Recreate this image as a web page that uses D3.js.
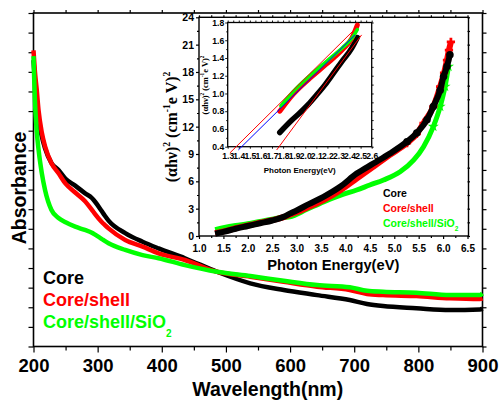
<!DOCTYPE html>
<html lang='en'>
<head>
<meta charset="utf-8">
<style>
  body { margin: 0; background: #fff; }
  text { font-family: "Liberation Sans", Arial, sans-serif; font-weight: bold; fill: #000; }
  .serif { font-family: "Liberation Serif", "Times New Roman", serif; }
  .frame { fill: none; stroke: #000; stroke-width: 1.6; }
  .tk line { stroke: #000; stroke-width: 1.2; }
  .tk path { display: none; }
</style>
<script src="https://d3js.org/d3.v7.min.js"></script>
</head>
<body>
<div id="chart"></div>
<script>
// ---- main plot: absorbance vs wavelength ----
var wavelength = [200, 202, 205, 208, 213, 218, 228, 239, 250, 265, 280, 291, 296, 306, 311, 317, 343, 370, 395, 436, 486, 538, 590, 642, 693, 720, 745, 797, 849, 896, 900];
var absCore    = [1.46, 1.36, 1.26, 1.16, 1.07, 1.01, 0.935, 0.90, 0.855, 0.82, 0.782, 0.757, 0.738, 0.692, 0.668, 0.642, 0.578, 0.534, 0.50, 0.45, 0.381, 0.322, 0.288, 0.262, 0.237, 0.217, 0.206, 0.195, 0.186, 0.189, 0.194];
var absShell   = [1.51, 1.41, 1.31, 1.20, 1.09, 1.02, 0.934, 0.883, 0.83, 0.785, 0.742, 0.697, 0.675, 0.636, 0.620, 0.602, 0.543, 0.509, 0.475, 0.441, 0.381, 0.356, 0.330, 0.305, 0.288, 0.268, 0.262, 0.257, 0.246, 0.242, 0.245];
var absSiO2    = [1.48, 1.27, 1.10, 1.00, 0.883, 0.798, 0.696, 0.655, 0.633, 0.611, 0.594, 0.580, 0.570, 0.549, 0.538, 0.526, 0.492, 0.466, 0.45, 0.415, 0.381, 0.359, 0.335, 0.313, 0.302, 0.284, 0.279, 0.274, 0.262, 0.262, 0.270];
var xTicks = [200, 300, 400, 500, 600, 700, 800, 900];

// ---- inset: (ahv)^2 vs photon energy ----
var eCore   = [1.33, 1.5, 1.75, 2.0, 2.25, 2.5, 2.75, 2.86, 3.0, 3.25, 3.55, 3.89, 4.23, 4.57, 4.91, 5.26, 5.46, 5.67, 5.80, 5.94, 6.01, 6.08, 6.14];
var vCore   = [0.25, 0.45, 0.8, 1.1, 1.4, 1.7, 2.15, 2.45, 2.8, 3.5, 4.3, 5.4, 6.85, 7.95, 9.05, 10.35, 11.3, 12.75, 14.2, 16.0, 17.5, 18.6, 19.9];
var eShell  = [1.33, 1.5, 1.75, 2.0, 2.25, 2.5, 2.75, 2.86, 3.0, 3.25, 3.55, 3.89, 4.23, 4.57, 4.91, 5.26, 5.46, 5.60, 5.80, 5.94, 6.02, 6.08, 6.12, 6.16];
var vShell  = [0.3, 0.5, 0.85, 1.15, 1.45, 1.75, 2.1, 2.35, 2.6, 3.2, 3.95, 5.0, 6.3, 7.6, 8.9, 10.2, 11.2, 12.4, 14.2, 16.4, 17.9, 19.3, 20.4, 21.3];
var eSiO2   = [1.33, 1.5, 1.75, 2.0, 2.25, 2.5, 2.75, 2.86, 3.2, 3.55, 3.89, 4.23, 4.5, 4.78, 5.12, 5.40, 5.60, 5.80, 5.94, 6.04, 6.11];
var vSiO2   = [0.7, 0.9, 1.15, 1.35, 1.6, 1.85, 2.05, 2.1, 2.9, 3.75, 4.45, 5.05, 5.6, 6.15, 7.05, 8.35, 9.8, 12.0, 14.2, 16.4, 18.6];

// ---- inner inset: zoom on band edge with fitted lines ----
var zCoreE  = [1.77, 1.88, 1.95, 2.03, 2.10, 2.18, 2.25, 2.33, 2.42, 2.47];
var zCoreV  = [0.56, 0.70, 0.78, 0.88, 0.98, 1.10, 1.22, 1.36, 1.51, 1.63];
var zShellE = [1.77, 1.89, 2.04, 2.19, 2.34, 2.42, 2.47];
var zShellV = [0.80, 0.99, 1.17, 1.33, 1.50, 1.62, 1.77];
var zSiO2E  = [1.78, 1.89, 2.04, 2.19, 2.34, 2.42, 2.47];
var zSiO2V  = [0.86, 1.02, 1.20, 1.36, 1.52, 1.62, 1.72];
var fitShell = [[1.32, 0.33], [2.46, 1.74]];
var fitSiO2  = [[1.396, 0.363], [2.449, 1.66]];
var fitCore  = [[1.742, 0.363], [2.509, 1.66]];

var colors = {core: "#000000", shell: "#ff0000", sio2: "#00ff00"};

function zip(xs, ys) { return xs.map(function(d, i) { return [d, ys[i]]; }); }
function range(a, b, s) { var r = []; for (var v = a; v <= b + 1e-9; v += s) r.push(+v.toFixed(3)); return r; }

var svg = d3.select("#chart").append("svg")
    .attr("width", 499).attr("height", 400);

// ================= main plot =================
var margin = {top: 13, right: 16.5, bottom: 53.5, left: 33.5},
    width = 499 - margin.left - margin.right,
    height = 400 - margin.top - margin.bottom;

var g = svg.append("g")
    .attr("transform", "translate(" + margin.left + "," + margin.top + ")");

var x = d3.scaleLinear().domain([200, 900]).range([0, width]);
var y = d3.scaleLinear().domain([0, 1.7]).range([height, 0]);

// bottom axis, labelled
g.append("g").attr("class", "tk")
  .attr("transform", "translate(0," + height + ")")
  .call(d3.axisBottom(x).tickValues(xTicks).tickSize(6).tickPadding(6.5).tickFormat(d3.format("d")))
  .selectAll("text").style("font-size", "18.5px").attr("fill", "#000");
g.append("g").attr("class", "tk")
  .attr("transform", "translate(0," + height + ")")
  .call(d3.axisBottom(x).tickValues(range(250, 850, 100)).tickSize(4).tickFormat(""));
// top axis
g.append("g").attr("class", "tk")
  .call(d3.axisTop(x).tickValues(range(200, 900, 50)).tickSize(3).tickFormat(""));
// left / right, no labels
g.append("g").attr("class", "tk")
  .call(d3.axisLeft(y).tickValues(range(0, 1.7, 0.1)).tickSize(5).tickFormat(""));
g.append("g").attr("class", "tk")
  .attr("transform", "translate(" + width + ",0)")
  .call(d3.axisRight(y).tickValues(range(0, 1.7, 0.1)).tickSize(4).tickFormat(""));

g.append("rect").attr("class", "frame").attr("width", width).attr("height", height);

var mainSeries = [
  {name: "core", values: zip(wavelength, absCore)},
  {name: "shell", values: zip(wavelength, absShell)},
  {name: "sio2", values: zip(wavelength, absSiO2)}
];

var line = d3.line()
  .x(function(d) { return x(d[0]); })
  .y(function(d) { return y(d[1]); })
  .curve(d3.curveMonotoneX);

g.selectAll("mainLines")
  .data(mainSeries)
  .enter()
  .append("path")
    .attr("d", function(d) { return line(d.values); })
    .attr("stroke", function(d) { return colors[d.name]; })
    .style("stroke-width", 4.5)
    .style("stroke-linejoin", "round")
    .style("fill", "none");

// axis titles
svg.append("text")
  .attr("x", 267.7).attr("y", 396)
  .attr("text-anchor", "middle")
  .style("font-size", "19.5px")
  .text("Wavelength(nm)");
svg.append("text")
  .attr("transform", "translate(26,188) rotate(-90)")
  .attr("text-anchor", "middle")
  .style("font-size", "19.5px")
  .text("Absorbance");

// main legend
var legMain = [
  {name: "core", label: "Core", y: 283.5},
  {name: "shell", label: "Core/shell", y: 306},
  {name: "sio2", label: "Core/shell/SiO", y: 327.7, sub: "2"}
];
legMain.forEach(function(d) {
  var t = svg.append("text").attr("x", 43).attr("y", d.y)
    .style("font-size", "18px").style("fill", colors[d.name]).text(d.label);
  if (d.sub) t.append("tspan").attr("dy", 9).style("font-size", "10px").text(d.sub);
});

// ================= inset =================
var inset = {left: 199, top: 17.3, width: 268.5, height: 218.7};
var gi = svg.append("g")
  .attr("transform", "translate(" + inset.left + "," + inset.top + ")");

var xi = d3.scaleLinear().domain([1.0, 6.5]).range([0, inset.width]);
var yi = d3.scaleLinear().domain([0, 24]).range([inset.height, 0]);

gi.append("g").attr("class", "tk")
  .attr("transform", "translate(0," + inset.height + ")")
  .call(d3.axisBottom(xi).tickValues(range(1.0, 6.5, 0.5)).tickSize(3).tickPadding(6).tickFormat(d3.format(".1f")))
  .selectAll("text").style("font-size", "10px").attr("fill", "#000");
gi.append("g").attr("class", "tk")
  .attr("transform", "translate(0," + inset.height + ")")
  .call(d3.axisBottom(xi).tickValues(range(1.25, 6.25, 0.5)).tickSize(2).tickFormat(""));
gi.append("g").attr("class", "tk")
  .call(d3.axisLeft(yi).tickValues(range(0, 24, 3)).tickSize(3).tickPadding(2).tickFormat(d3.format("d")))
  .selectAll("text").style("font-size", "10.5px").attr("fill", "#000");
gi.append("g").attr("class", "tk")
  .call(d3.axisLeft(yi).tickValues(range(1.5, 22.5, 3)).tickSize(2).tickFormat(""));
gi.append("g").attr("class", "tk")
  .call(d3.axisTop(xi).tickValues(range(1.0, 6.5, 0.25)).tickSize(2).tickFormat(""));
gi.append("g").attr("class", "tk")
  .attr("transform", "translate(" + inset.width + ",0)")
  .call(d3.axisRight(yi).tickValues(range(0, 24, 1.5)).tickSize(2.5).tickFormat(""));

gi.append("rect").attr("class", "frame").attr("width", inset.width + 1).attr("height", inset.height)
  .style("stroke-width", 1.4);

var insetSeries = [
  {name: "sio2", symbol: d3.symbolStar, values: zip(eSiO2, vSiO2)},
  {name: "shell", symbol: d3.symbolCross, values: zip(eShell, vShell)},
  {name: "core", symbol: d3.symbolCircle, values: zip(eCore, vCore)}
];

var lineI = d3.line()
  .x(function(d) { return xi(d[0]); })
  .y(function(d) { return yi(d[1]); })
  .curve(d3.curveMonotoneX);

insetSeries.forEach(function(s) {
  gi.append("path")
    .attr("d", lineI(s.values))
    .attr("stroke", colors[s.name])
    .style("stroke-width", s.name == "sio2" ? 5 : 6)
    .style("stroke-linejoin", "round")
    .style("fill", "none");
  // separate markers only show on the steep upper part
  gi.selectAll(null)
    .data(s.values.filter(function(d) { return d[1] >= 10; }))
    .enter()
    .append("path")
      .attr("transform", function(d) { return "translate(" + xi(d[0]) + "," + yi(d[1]) + ")"; })
      .attr("d", d3.symbol().type(s.symbol).size(s.name == "core" ? 45 : 38))
      .style("fill", colors[s.name]);
});

svg.append("text")
  .attr("x", inset.left + inset.width / 2).attr("y", 270)
  .attr("text-anchor", "middle")
  .style("font-size", "14.7px")
  .text("Photon Energy(eV)");

function supLabel(parent, tx, ty, size) {
  var t = parent.append("text").attr("class", "serif")
    .attr("transform", "translate(" + tx + "," + ty + ") rotate(-90)")
    .attr("text-anchor", "middle")
    .style("font-size", size + "px");
  var s = size * 0.6, up = size * 0.42;
  t.append("tspan").text("(\u03b1h\u03bd)");
  t.append("tspan").attr("dy", -up).style("font-size", s + "px").text("2");
  t.append("tspan").attr("dy", up).text(" (cm");
  t.append("tspan").attr("dy", -up).style("font-size", s + "px").text("-1");
  t.append("tspan").attr("dy", up).text("e V)");
  t.append("tspan").attr("dy", -up).style("font-size", s + "px").text("2");
  return t;
}
supLabel(svg, 177, 127, 16);

var legInset = [
  {name: "core", label: "Core", y: 197},
  {name: "shell", label: "Core/shell", y: 212},
  {name: "sio2", label: "Core/shell/SiO", y: 226.5, sub: "2"}
];
legInset.forEach(function(d) {
  var t = svg.append("text").attr("x", 383).attr("y", d.y)
    .style("font-size", "10.5px").style("fill", colors[d.name]).text(d.label);
  if (d.sub) t.append("tspan").attr("dy", 4).style("font-size", "6.5px").text(d.sub);
});

// ================= inner inset =================
var inner = {left: 227.7, top: 22.5, width: 144, height: 124.2};
var gz = svg.append("g")
  .attr("transform", "translate(" + inner.left + "," + inner.top + ")");

var xz = d3.scaleLinear().domain([1.3, 2.6]).range([0, inner.width]);
var yz = d3.scaleLinear().domain([0.4, 1.8]).range([inner.height, 0]);

gz.append("rect").attr("width", inner.width).attr("height", inner.height).style("fill", "#fff");

gz.append("g").attr("class", "tk")
  .attr("transform", "translate(0," + inner.height + ")")
  .call(d3.axisBottom(xz).tickValues(range(1.3, 2.6, 0.1)).tickSize(2).tickPadding(4.5).tickFormat(d3.format(".1f")))
  .selectAll("text").style("font-size", "8.6px").attr("fill", "#000");
gz.append("g").attr("class", "tk")
  .call(d3.axisLeft(yz).tickValues(range(0.4, 1.8, 0.2)).tickSize(2.5).tickPadding(1).tickFormat(d3.format(".1f")))
  .selectAll("text").style("font-size", "8.6px").attr("fill", "#000");
gz.append("g").attr("class", "tk")
  .call(d3.axisLeft(yz).tickValues(range(0.5, 1.7, 0.2)).tickSize(1.5).tickFormat(""));
gz.append("g").attr("class", "tk")
  .call(d3.axisTop(xz).tickValues(range(1.3, 2.6, 0.05)).tickSize(2).tickFormat(""));
gz.append("g").attr("class", "tk")
  .attr("transform", "translate(" + inner.width + ",0)")
  .call(d3.axisRight(yz).tickValues(range(0.4, 1.8, 0.1)).tickSize(2).tickFormat(""));

gz.selectAll(".tk line").style("stroke-width", 0.9);
gz.append("rect").attr("class", "frame").attr("width", inner.width).attr("height", inner.height)
  .style("stroke-width", 1.3);

var lineZ = d3.line()
  .x(function(d) { return xz(d[0]); })
  .y(function(d) { return yz(d[1]); })
  .curve(d3.curveMonotoneX);

var innerSeries = [
  {name: "core", values: zip(zCoreE, zCoreV), w: 5.5},
  {name: "shell", values: zip(zShellE, zShellV), w: 5},
  {name: "sio2", values: zip(zSiO2E, zSiO2V), w: 3.5}
];
innerSeries.forEach(function(s) {
  gz.append("path")
    .attr("d", lineZ(s.values))
    .attr("stroke", colors[s.name])
    .style("stroke-width", s.w)
    .style("stroke-linecap", "round")
    .style("fill", "none");
});

var fits = [
  {pts: fitShell, c: "#ff0000"},
  {pts: fitSiO2, c: "#0000ff"},
  {pts: fitCore, c: "#ff0000"}
];
fits.forEach(function(f) {
  gz.append("path")
    .attr("d", d3.line().x(function(d) { return xz(d[0]); }).y(function(d) { return yz(d[1]); })(f.pts))
    .attr("stroke", f.c)
    .style("stroke-width", 1)
    .style("fill", "none");
});

svg.append("text")
  .attr("x", inner.left + inner.width / 2).attr("y", 173)
  .attr("text-anchor", "middle")
  .style("font-size", "8px")
  .text("Photon Energy(eV)");
supLabel(svg, 208, 85, 8.5);
</script>
</body>
</html>
